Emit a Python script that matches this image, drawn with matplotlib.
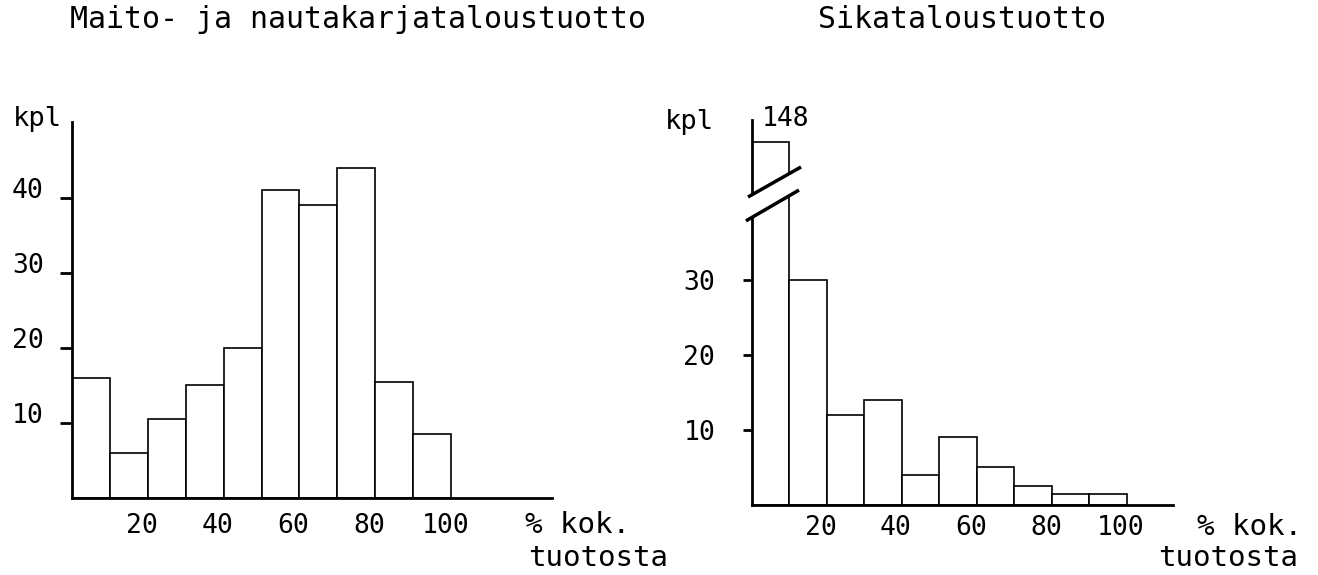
import numpy as np
import matplotlib
matplotlib.use("Agg")
import matplotlib.pyplot as plt
import matplotlib.transforms as mtransforms
from matplotlib.patches import Polygon

plt.rcParams['font.family'] = ['DejaVu Sans Mono', 'DejaVu Sans']

# luokat: % kokonaistuotosta, 10 %-yksikon valein
bin_left = [0, 10, 20, 30, 40, 50, 60, 70, 80, 90]
maito_kpl = [16, 6, 10.5, 15, 20, 41, 39, 44, 15.5, 8.5]
sika_kpl = [148, 30, 12, 14, 4, 9, 5, 2.5, 1.5, 1.5]
x_ticks = [20, 40, 60, 80, 100]
maito_yticks = [10, 20, 30, 40]
sika_yticks = [10, 20, 30]

# katkaistu y-akseli sikataloudelle
BREAK = 40
K = 0.077

def fwd(y):
    y = np.asarray(y, dtype=float)
    return np.where(y <= BREAK, y, BREAK + (y - BREAK) * K)

def inv(y):
    y = np.asarray(y, dtype=float)
    return np.where(y <= BREAK, y, BREAK + (y - BREAK) / K)

W, H = 1318, 575
fig = plt.figure(figsize=(W / 100, H / 100), dpi=100)

def px(x, y):
    return x / W, 1 - y / H

ax1 = fig.add_axes([72 / W, 1 - 498 / H, 480 / W, 376 / H])
ax2 = fig.add_axes([752 / W, 1 - 505 / H, 421 / W, 385 / H])

for ax in (ax1, ax2):
    for s in ("top", "right"):
        ax.spines[s].set_visible(False)
    for s in ("left", "bottom"):
        ax.spines[s].set_linewidth(2)
    ax.set_xticks(x_ticks)
    ax.tick_params(axis="x", length=0, labelsize=19)
    ax.minorticks_off()

# Maito- ja nautakarjatalous
ax1.bar(bin_left, maito_kpl, width=10, align="edge", facecolor="white",
        edgecolor="black", linewidth=1.2)
ax1.set_xlim(0, 126.6)
ax1.set_ylim(0, 50.1)
ax1.set_yticks(maito_yticks)
ax1.tick_params(axis="y", direction="out", length=8.5, width=2, pad=12, labelsize=19)
ax1.tick_params(axis="x", pad=11)
up = mtransforms.ScaledTranslation(0, 10 / 100, fig.dpi_scale_trans)
for lab in ax1.get_yticklabels():
    lab.set_transform(lab.get_transform() + up)

# Sikatalous
ax2.set_yscale("function", functions=(fwd, inv))
ax2.bar(bin_left, sika_kpl, width=10, align="edge", facecolor="white",
        edgecolor="black", linewidth=1.2)
ax2.set_xlim(0, 112.3)
ax2.set_ylim(0, float(inv(51.3)))
ax2.set_yticks(sika_yticks)
ax2.minorticks_off()
ax2.tick_params(axis="y", direction="out", length=6.5, width=2, pad=20, labelsize=19)
ax2.tick_params(axis="x", pad=7)
ax2.annotate(str(sika_kpl[0]), xy=(0, sika_kpl[0]), xytext=(7, 17),
             textcoords="offset points", ha="left", va="center", fontsize=19)

left = mtransforms.ScaledTranslation(-6 / 100, 0, fig.dpi_scale_trans)
for ax in (ax1, ax2):
    for lab in ax.get_xticklabels():
        lab.set_transform(lab.get_transform() + left)

# katkoviivat
lo = [(-0.0143, 0.738), (0.1116, 0.818)]
hi = [(-0.0095, 0.800), (0.1164, 0.878)]
ax2.add_patch(Polygon([lo[0], lo[1], hi[1], hi[0]], closed=True,
                      transform=ax2.transAxes, facecolor="white",
                      edgecolor="none", clip_on=False, zorder=5))
for seg in (lo, hi):
    ax2.plot([seg[0][0], seg[1][0]], [seg[0][1], seg[1][1]], color="black",
             lw=2.5, transform=ax2.transAxes, clip_on=False, zorder=6,
             solid_capstyle="butt")

# tekstit
fig.text(*px(70, 20), "Maito- ja nautakarjataloustuotto", fontsize=21.5, va="center")
fig.text(*px(818, 20), "Sikataloustuotto", fontsize=21.5, va="center")
fig.text(*px(13, 119), "kpl", fontsize=19.5, va="center")
fig.text(*px(665, 122), "kpl", fontsize=19.5, va="center")
fig.text(*px(525, 525), "% kok.", fontsize=21, va="center")
fig.text(*px(528, 558), "tuotosta", fontsize=21, va="center")
fig.text(*px(1197, 527), "% kok.", fontsize=21, va="center")
fig.text(*px(1158, 558), "tuotosta", fontsize=21, va="center")

fig.savefig("out.png", dpi=100, facecolor="white")
